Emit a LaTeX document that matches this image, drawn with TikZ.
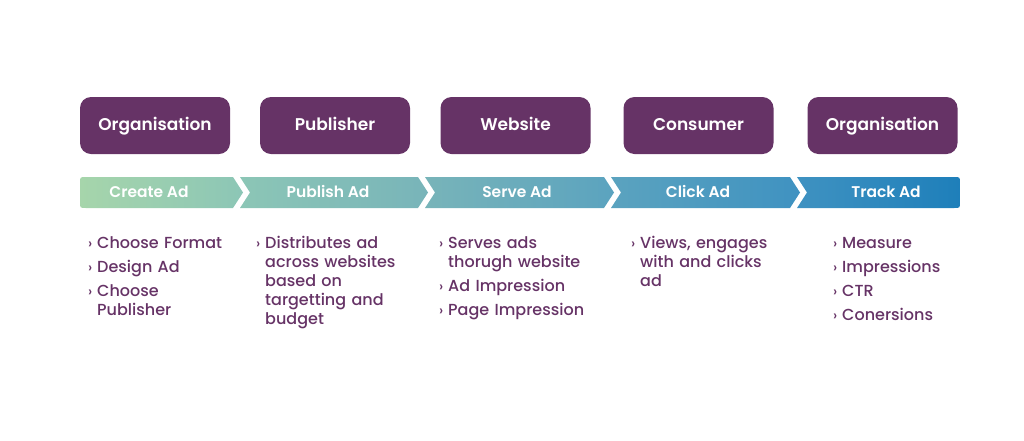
\documentclass[tikz,border=0pt]{standalone}
\usepackage{fontspec}
\setmainfont{Poppins}
\newfontfamily\semifont{Poppins SemiBold}
\newfontfamily\medfont{Poppins Medium}
\definecolor{plum}{HTML}{663366}
\definecolor{g0}{HTML}{A6D5AB}
\definecolor{g1}{HTML}{8CC6B6}
\definecolor{g2}{HTML}{78B4B9}
\definecolor{g3}{HTML}{5BA3BF}
\definecolor{g4}{HTML}{3F92C1}
\definecolor{g5}{HTML}{1E7FBA}
\newcommand{\bul}{\llap{\fontsize{14}{14}\selectfont ›\hspace{5pt}}}
\tikzset{
  actor/.style={fill=plum,rounded corners=11pt,minimum width=150pt,minimum height=57pt,
    text=white,text height=14pt,text depth=3.5pt,font=\semifont\fontsize{17}{20}\selectfont},
  stage/.style={text=white,text height=13pt,text depth=3pt,font=\semifont\fontsize{15.5}{18}\selectfont},
  item/.style={anchor=base west,inner sep=0pt,text=plum,text width=180pt,align=left,
    font=\medfont\fontsize{16}{19}\selectfont}
}
\begin{document}
\begin{tikzpicture}[x=1pt,y=-1pt]
\useasboundingbox (0,0) rectangle (1024,440);
% who
\node[actor] (org) at (155,125.5) {Organisation};
\node[actor] (pub) at (335,125.5) {Publisher};
\node[actor] (web) at (515.5,125.5) {Website};
\node[actor] (con) at (698.5,125.5) {Consumer};
\node[actor] (org2) at (882.5,125.5) {Organisation};
% stages
\path[left color=g0,right color=g1] (86,177) -- (233,177) -- (243,192.5) -- (233,208) -- (86,208)
  .. controls (80,208) .. (80,202) -- (80,183) .. controls (80,177) .. (86,177) -- cycle;
\path[left color=g1,right color=g2] (240,177) -- (418,177) -- (428,192.5) -- (418,208) -- (240,208) -- (250,192.5) -- cycle;
\path[left color=g2,right color=g3] (425,177) -- (604,177) -- (614,192.5) -- (604,208) -- (425,208) -- (435,192.5) -- cycle;
\path[left color=g3,right color=g4] (611,177) -- (790,177) -- (800,192.5) -- (790,208) -- (611,208) -- (621,192.5) -- cycle;
\path[left color=g4,right color=g5] (797,177) -- (954,177) .. controls (960,177) .. (960,183) -- (960,202)
  .. controls (960,208) .. (954,208) -- (797,208) -- (807,192.5) -- cycle;
\node[stage] (create) at (149,192.5) {Create Ad};
\node[stage] (publish) at (328,192.5) {Publish Ad};
\node[stage] (serve) at (517,192.5) {Serve Ad};
\node[stage] (click) at (698,192.5) {Click Ad};
\node[stage] (track) at (886,192.5) {Track Ad};
% what
\node[item] (c1) at (97,248) {\bul Choose Format};
\node[item] (c2) at (97,272) {\bul Design Ad};
\node[item] (c3) at (97,296) {\bul Choose\\Publisher};
\node[item] (p1) at (265,248) {\bul Distributes ad\\across websites\\based on\\targetting and\\budget};
\node[item] (s1) at (448,248) {\bul Serves ads\\thorugh website};
\node[item] (s2) at (448,291) {\bul Ad Impression};
\node[item] (s3) at (448,315) {\bul Page Impression};
\node[item] (v1) at (640,248) {\bul Views, engages\\with and clicks\\ad};
\node[item] (t1) at (842,248) {\bul Measure};
\node[item] (t2) at (842,272) {\bul Impressions};
\node[item] (t3) at (842,296) {\bul CTR};
\node[item] (t4) at (842,320) {\bul Conersions};
\end{tikzpicture}
\end{document}
